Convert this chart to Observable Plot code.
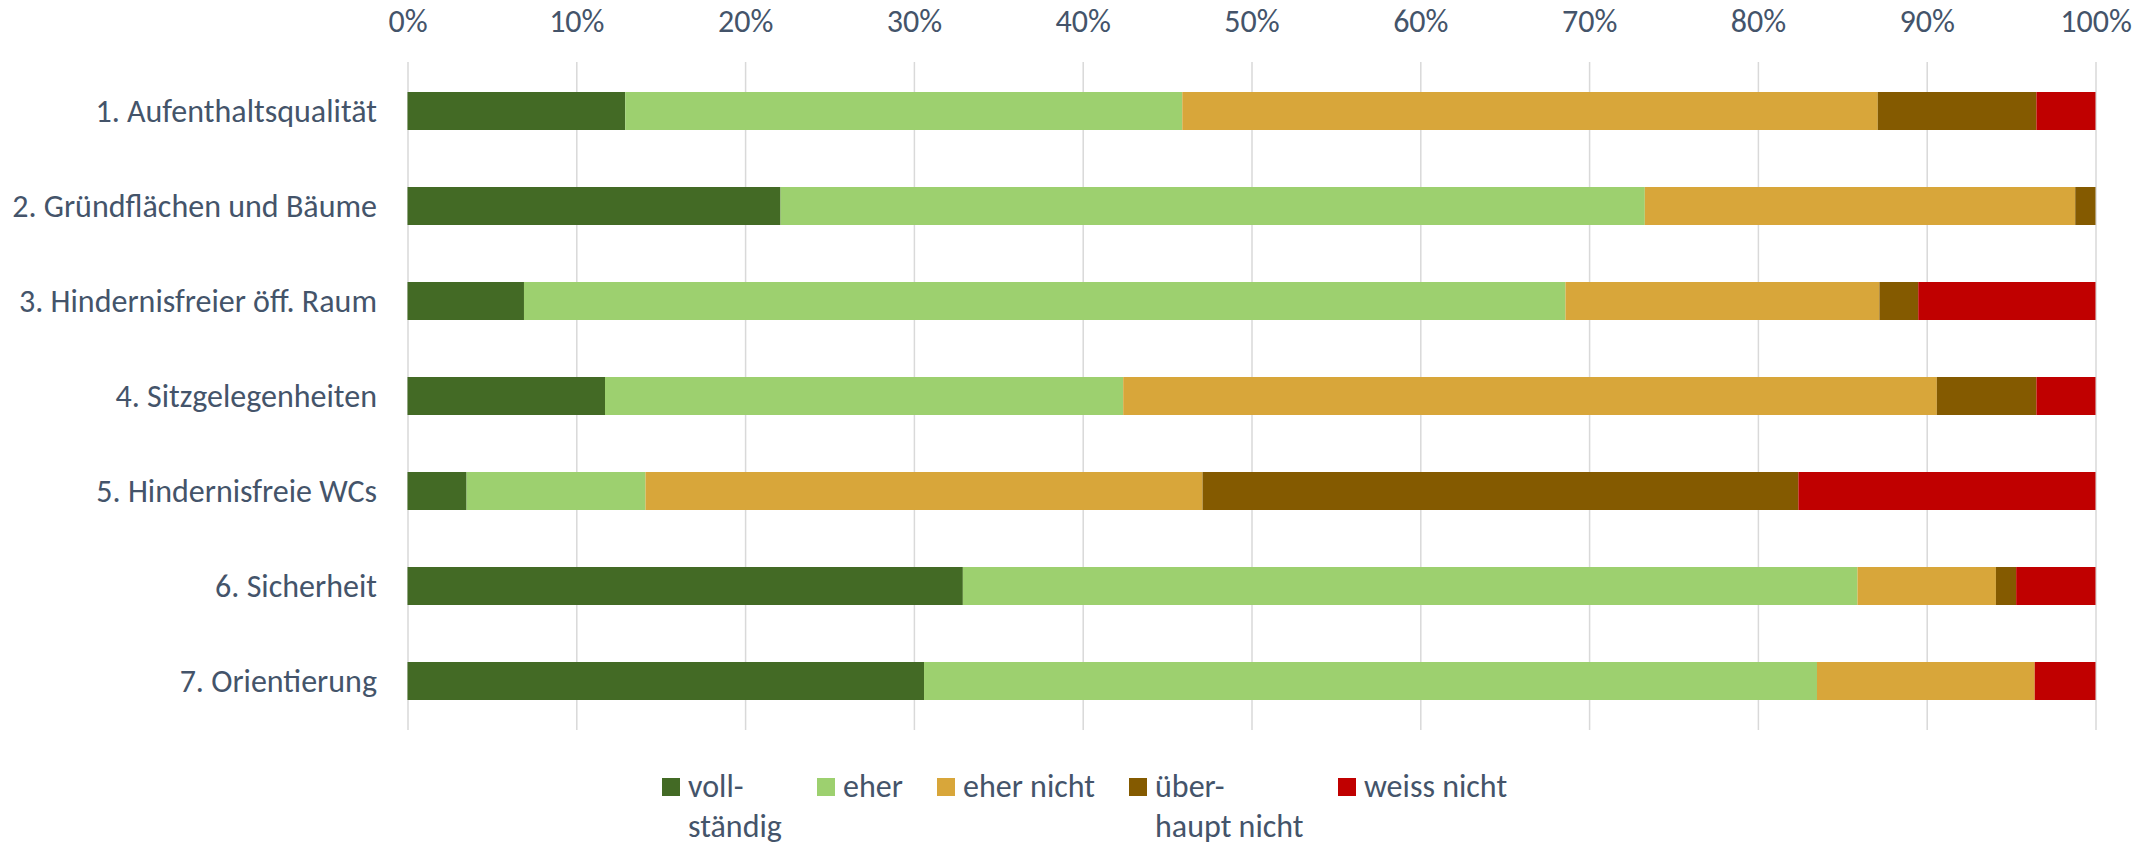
<!DOCTYPE html>
<html>
<head>
<meta charset="utf-8">
<script src="https://cdn.jsdelivr.net/npm/d3@7"></script>
<script src="https://cdn.jsdelivr.net/npm/@observablehq/plot@0.6"></script>
<style>
  html, body { margin: 0; padding: 0; background: #ffffff; }
  #chart { width: 2154px; }
  .legend { display: flex; padding-left: 662px; padding-top: 27px; box-sizing: border-box; height: 102px; color: #44546A; }
  .legend .item { display: flex; align-items: flex-start; }
  .legend .sw { width: 18px; height: 18px; margin-top: 11px; flex: none; }
  .legend .txt { margin-left: 8px; white-space: pre-line; line-height: 40px; }
</style>
</head>
<body>
<div id="chart"></div>
<script>
// ---- data ----
const items = [
  "1. Aufenthaltsqualität",
  "2. Gründflächen und Bäume",
  "3. Hindernisfreier öff. Raum",
  "4. Sitzgelegenheiten",
  "5. Hindernisfreie WCs",
  "6. Sicherheit",
  "7. Orientierung"
];
const categories = ["vollständig", "eher", "eher nicht", "überhaupt nicht", "weiss nicht"];
const legendLabels = ["voll-\nständig", "eher", "eher nicht", "über-\nhaupt nicht", "weiss nicht"];
const colors = ["#436A25", "#9DD06F", "#D8A63A", "#845A00", "#C00000"];

const vollstaendig    = [12.9, 22.1,  6.9, 11.7,  3.5, 32.9, 30.6];
const eher            = [33.0, 51.2, 61.7, 30.7, 10.6, 53.0, 52.9];
const eherNicht       = [41.2, 25.5, 18.6, 48.2, 33.0,  8.2, 12.9];
const ueberhauptNicht = [ 9.4,  1.2,  2.3,  5.9, 35.3,  1.2,  0.0];
const weissNicht      = [ 3.5,  0.0, 10.5,  3.5, 17.6,  4.7,  3.6];

const xTicks = [0, 10, 20, 30, 40, 50, 60, 70, 80, 90, 100];

// ---- build table ----
const series = [vollstaendig, eher, eherNicht, ueberhauptNicht, weissNicht];
const rows = [];
items.forEach((item, i) => {
  categories.forEach((cat, j) => {
    rows.push({item, category: cat, value: series[j][i]});
  });
});

// ---- font fitting (Calibri-like metrics) ----
const FONT_STACK = "Carlito, Calibri, Lato, 'Open Sans', sans-serif";
const ctx = document.createElement("canvas").getContext("2d");
ctx.font = `32px ${FONT_STACK}`;
const measured = ctx.measureText("2. Gründflächen und Bäume").width;
const fs = Math.max(24, Math.min(34, 32 * 365 / measured));

const chart = Plot.plot({
  width: 2154,
  height: 740,
  marginTop: 62,
  marginBottom: 10,
  marginLeft: 407.5,
  marginRight: 58.5,
  style: {
    fontFamily: FONT_STACK,
    fontSize: fs + "px",
    color: "#44546A",
    background: "#ffffff",
    overflow: "visible"
  },
  x: {
    domain: [0, 100],
    axis: "top",
    ticks: xTicks,
    tickFormat: d => d + "%",
    tickSize: 0,
    tickPadding: 31,
    label: null
  },
  y: {
    domain: items,
    paddingInner: 0.6,
    paddingOuter: 0.3,
    tickSize: 0,
    tickPadding: 31,
    label: null
  },
  color: { domain: categories, range: colors },
  marks: [
    Plot.gridX(xTicks, { stroke: "#D9D9D9", strokeOpacity: 1, strokeWidth: 1.5 }),
    Plot.barX(rows, { x: "value", y: "item", fill: "category", order: categories })
  ]
});
document.getElementById("chart").appendChild(chart);

// ---- legend ----
const itemWidths = [155, 120, 192, 209, 260];
const legend = document.createElement("div");
legend.className = "legend";
legend.style.fontFamily = FONT_STACK;
legend.style.fontSize = fs + "px";
categories.forEach((cat, i) => {
  const it = document.createElement("div");
  it.className = "item";
  it.style.width = itemWidths[i] + "px";
  const sw = document.createElement("span");
  sw.className = "sw";
  sw.style.background = colors[i];
  const tx = document.createElement("span");
  tx.className = "txt";
  tx.textContent = legendLabels[i];
  it.appendChild(sw);
  it.appendChild(tx);
  legend.appendChild(it);
});
document.getElementById("chart").appendChild(legend);
</script>
</body>
</html>
